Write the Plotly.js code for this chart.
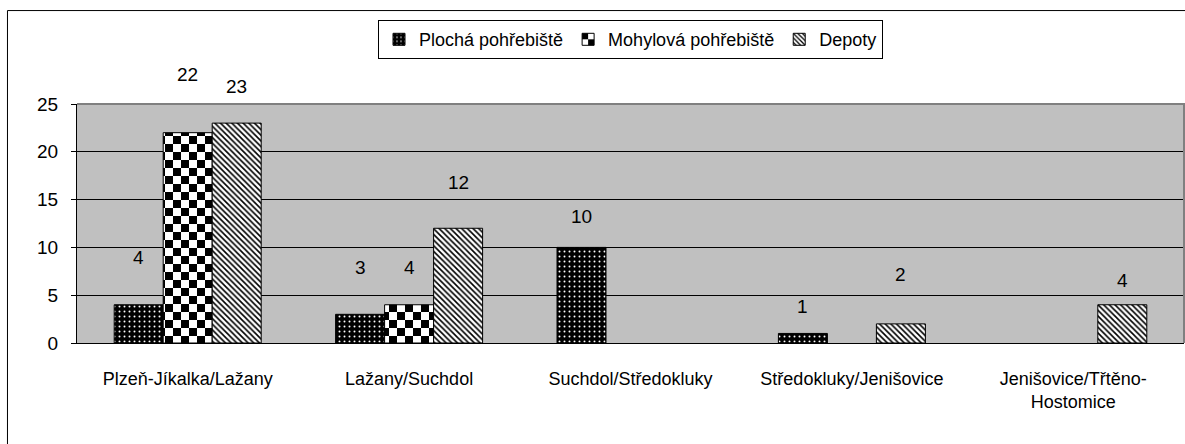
<!DOCTYPE html>
<html><head><meta charset="utf-8">
<script src="https://cdn.plot.ly/plotly-3.0.1.min.js"></script>
<style>html,body{margin:0;padding:0;background:#fff}#chart{width:1185px;height:444px}</style>
</head><body><div id="chart"></div>
<script>
// ---- data ----
const categories = ['Plzeň-Jíkalka/Lažany', 'Lažany/Suchdol', 'Suchdol/Středokluky', 'Středokluky/Jenišovice', 'Jenišovice/Třtěno-<br>Hostomice'];
const seriesNames = ['Plochá pohřebiště', 'Mohylová pohřebiště', 'Depoty'];
const plocha = [4, 3, 10, 1, null];
const mohylova = [22, 4, null, null, null];
const depoty = [23, 12, null, 2, 4];
const yTicks = [0, 5, 10, 15, 20, 25];

// ---- styling / placement (not data) ----
const labelLift = [
  [4.9, 4.85, 3.2, 2.8, 0],
  [6.1, 3.85, 0, 0, 0],
  [3.8, 4.75, 0, 5.2, 2.5]
];
const FONT = 'Liberation Sans, Arial, sans-serif';
const yMax = 25;
const bargap = 0.336;
const barW = (1 - bargap) / 3;

const allSeries = [plocha, mohylova, depoty];
const patterns = [
  {shape: '.', fgcolor: '#ffffff', bgcolor: '#000000', size: 5, solidity: 0.12, fillmode: 'replace'},
  {shape: '+', fgcolor: '#000000', bgcolor: '#ffffff', size: 8, solidity: 0.5, fillmode: 'replace'},
  {shape: '\\', fgcolor: '#000000', bgcolor: '#ffffff', size: 4, solidity: 0.4, fillmode: 'replace'}
];

const traces = allSeries.map((vals, s) => ({
  type: 'bar',
  name: seriesNames[s],
  x: categories,
  y: vals,
  marker: {color: '#ffffff', line: {color: '#000000', width: 1}, pattern: patterns[s]},
  hoverinfo: 'x+y+name'
}));

const annotations = [];
allSeries.forEach((vals, s) => {
  vals.forEach((v, i) => {
    if (v === null) return;
    annotations.push({
      xref: 'x', yref: 'paper', x: i + (s - 1) * barW, y: (v + labelLift[s][i]) / yMax,
      text: String(v), showarrow: false, yanchor: 'middle', xanchor: 'center',
      font: {family: FONT, size: 19, color: '#000'}
    });
  });
});

const layout = {
  width: 1185, height: 444,
  margin: {l: 77, r: 1, t: 104, b: 101},
  paper_bgcolor: '#ffffff',
  plot_bgcolor: '#c0c0c0',
  barmode: 'group', bargap: bargap, bargroupgap: 0,
  font: {family: FONT, size: 18, color: '#000'},
  showlegend: true,
  legend: {
    orientation: 'h', x: 0.5, xanchor: 'center', y: 1.351, yanchor: 'top',
    bgcolor: '#ffffff', bordercolor: '#000000', borderwidth: 1,
    font: {family: FONT, size: 18, color: '#000'}, traceorder: 'normal'
  },
  xaxis: {
    type: 'category', showgrid: false, showline: true, linecolor: '#000', linewidth: 1,
    ticks: '', tickfont: {family: FONT, size: 18, color: '#000'}, ticklabelstandoff: 19,
    zeroline: false, fixedrange: true
  },
  yaxis: {
    range: [0, yMax], tickvals: yTicks, ticktext: yTicks.map(String),
    showgrid: true, gridcolor: '#000000', gridwidth: 1,
    showline: true, linecolor: '#000', linewidth: 1,
    ticks: 'outside', ticklen: 5, tickcolor: '#000', tickwidth: 1, ticklabelstandoff: 9,
    tickfont: {family: FONT, size: 19, color: '#000'}, zeroline: false, fixedrange: true
  },
  shapes: [
    {type: 'path', xref: 'paper', yref: 'paper', path: 'M 0 1 L 1 1 L 1 0', line: {color: '#808080', width: 2}, layer: 'above'},
    {type: 'rect', xref: 'paper', yref: 'paper', x0: -0.0628, x1: 1.02, y0: -0.6, y1: 1.391, line: {color: '#000', width: 1}, fillcolor: 'rgba(0,0,0,0)', layer: 'above'}
  ],
  annotations: annotations
};

Plotly.newPlot('chart', traces, layout, {displayModeBar: false, staticPlot: true}).then(gd => {
  const ns = 'http://www.w3.org/2000/svg';
  const svg = gd.querySelector('.main-svg');
  let defs = svg.querySelector('defs');
  if (!defs) { defs = document.createElementNS(ns, 'defs'); svg.insertBefore(defs, svg.firstChild); }
  const pat = document.createElementNS(ns, 'pattern');
  pat.setAttribute('id', 'checkerPat');
  pat.setAttribute('patternUnits', 'userSpaceOnUse');
  pat.setAttribute('width', '16'); pat.setAttribute('height', '16');
  [[0, 0, 16, 16, '#fff'], [0, 0, 8, 8, '#000'], [8, 8, 8, 8, '#000']].forEach(r => {
    const e = document.createElementNS(ns, 'rect');
    e.setAttribute('x', r[0]); e.setAttribute('y', r[1]);
    e.setAttribute('width', r[2]); e.setAttribute('height', r[3]);
    e.setAttribute('fill', r[4]);
    pat.appendChild(e);
  });
  defs.appendChild(pat);
  const barTraces = gd.querySelectorAll('.barlayer .trace');
  if (barTraces[1]) barTraces[1].querySelectorAll('path').forEach(p => { p.style.fill = 'url(#checkerPat)'; });
  const legTraces = gd.querySelectorAll('.legend .traces');
  if (legTraces[1]) legTraces[1].querySelectorAll('.legendpoints path').forEach(p => { p.style.fill = 'url(#checkerPat)'; });
});
</script>
</body></html>
